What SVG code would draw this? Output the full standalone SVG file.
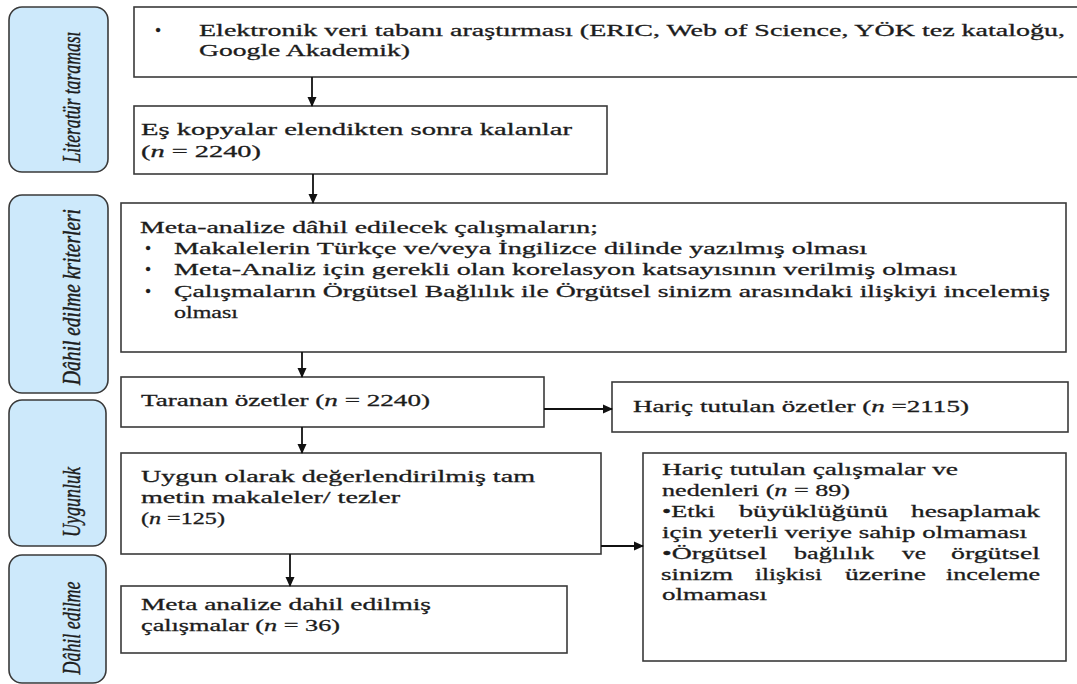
<svg xmlns="http://www.w3.org/2000/svg" width="1077" height="684" viewBox="0 0 1077 684">
<defs>
<marker id="ah" markerWidth="10" markerHeight="10" refX="9" refY="5" orient="auto" markerUnits="userSpaceOnUse">
<path d="M0,0.5 L10,5 L0,9.5 Z" fill="#111"/>
</marker>
<style>
.side{fill:#cde9fb;stroke:#3a3a3a;stroke-width:1.6}
.box{fill:#fff;stroke:#3a3a3a;stroke-width:1.6}
.t{font-family:"Liberation Serif","Times New Roman",serif;font-size:17.5px;fill:#1c1c1c;stroke:#1c1c1c;stroke-width:0.3}
.lab{font-family:"Liberation Serif","Times New Roman",serif;font-size:18px;font-style:italic;fill:#1c1c1c;stroke:#1c1c1c;stroke-width:0.3}
.i{font-style:italic}
.con{stroke:#111;stroke-width:1.8;fill:none}
</style>
</defs>
<rect width="1077" height="684" fill="#fff"/>

<g id="label-literatur">
<rect class="side" x="9" y="7" width="99" height="165" rx="13"/>
<text class="lab" transform="translate(80,97) rotate(-90) scale(1,1.4)" text-anchor="middle" textLength="131" lengthAdjust="spacingAndGlyphs">Literatür taraması</text>
</g>
<g id="label-dahil-kriter">
<rect class="side" x="9" y="195" width="99" height="198" rx="13"/>
<text class="lab" transform="translate(80,297) rotate(-90) scale(1,1.4)" text-anchor="middle" textLength="176" lengthAdjust="spacingAndGlyphs">Dâhil edilme kriterleri</text>
</g>
<g id="label-uygunluk">
<rect class="side" x="9" y="400" width="97" height="146" rx="13"/>
<text class="lab" transform="translate(80,502) rotate(-90) scale(1,1.4)" text-anchor="middle" textLength="70" lengthAdjust="spacingAndGlyphs">Uygunluk</text>
</g>
<g id="label-dahil">
<rect class="side" x="9" y="555" width="97" height="128" rx="13"/>
<text class="lab" transform="translate(80,628) rotate(-90) scale(1,1.4)" text-anchor="middle" textLength="93" lengthAdjust="spacingAndGlyphs">Dâhil edilme</text>
</g>

<g id="box-elektronik">
<rect class="box" x="134" y="7" width="960" height="70"/>
<text class="t" x="155" y="36">•</text>
<text class="t" x="199" y="36" textLength="866" lengthAdjust="spacingAndGlyphs">Elektronik veri tabanı araştırması (ERIC, Web of Science, YÖK tez kataloğu,</text>
<text class="t" x="199" y="56" textLength="211" lengthAdjust="spacingAndGlyphs">Google Akademik)</text>
</g>

<g id="box-kopyalar">
<rect class="box" x="134" y="106" width="473" height="68"/>
<text class="t" x="141" y="135" textLength="431" lengthAdjust="spacingAndGlyphs">Eş kopyalar elendikten sonra kalanlar</text>
<text class="t" x="141" y="157" textLength="120" lengthAdjust="spacingAndGlyphs">(<tspan class="i">n</tspan> = 2240)</text>
</g>

<g id="box-kriterler">
<rect class="box" x="121" y="203" width="945" height="149"/>
<text class="t" x="140" y="233" textLength="458" lengthAdjust="spacingAndGlyphs">Meta-analize dâhil edilecek çalışmaların;</text>
<text class="t" x="145" y="254">•</text>
<text class="t" x="174" y="254" textLength="693" lengthAdjust="spacingAndGlyphs">Makalelerin Türkçe ve/veya İngilizce dilinde yazılmış olması</text>
<text class="t" x="145" y="275">•</text>
<text class="t" x="174" y="275" textLength="783" lengthAdjust="spacingAndGlyphs">Meta-Analiz için gerekli olan korelasyon katsayısının verilmiş olması</text>
<text class="t" x="145" y="297">•</text>
<text class="t" x="174" y="297" textLength="876" lengthAdjust="spacingAndGlyphs">Çalışmaların Örgütsel Bağlılık ile Örgütsel sinizm arasındaki ilişkiyi incelemiş</text>
<text class="t" x="174" y="318" textLength="64" lengthAdjust="spacingAndGlyphs">olması</text>
</g>

<g id="box-taranan">
<rect class="box" x="121" y="377" width="423" height="50"/>
<text class="t" x="141" y="406" textLength="289" lengthAdjust="spacingAndGlyphs">Taranan özetler (<tspan class="i">n</tspan> = 2240)</text>
</g>

<g id="box-haric-ozet">
<rect class="box" x="612" y="382" width="456" height="50"/>
<text class="t" x="633" y="412" textLength="336" lengthAdjust="spacingAndGlyphs">Hariç tutulan özetler (<tspan class="i">n</tspan> =2115)</text>
</g>

<g id="box-uygun">
<rect class="box" x="121" y="453" width="480" height="101"/>
<text class="t" x="141" y="482" textLength="394" lengthAdjust="spacingAndGlyphs">Uygun olarak değerlendirilmiş tam</text>
<text class="t" x="141" y="503" textLength="259" lengthAdjust="spacingAndGlyphs">metin makaleler/ tezler</text>
<text class="t" x="141" y="524" textLength="84" lengthAdjust="spacingAndGlyphs">(<tspan class="i">n</tspan> =125)</text>
</g>

<g id="box-haric-calisma">
<rect class="box" x="643" y="453" width="423" height="208"/>
<text class="t" x="662" y="475" textLength="296" lengthAdjust="spacingAndGlyphs">Hariç tutulan çalışmalar ve</text>
<text class="t" x="662" y="496" textLength="188" lengthAdjust="spacingAndGlyphs">nedenleri (<tspan class="i">n</tspan> = 89)</text>
<text class="t" x="662" y="517" textLength="53" lengthAdjust="spacingAndGlyphs">•Etki</text>
<text class="t" x="739" y="517" textLength="149" lengthAdjust="spacingAndGlyphs">büyüklüğünü</text>
<text class="t" x="911" y="517" textLength="129" lengthAdjust="spacingAndGlyphs">hesaplamak</text>
<text class="t" x="662" y="538" textLength="365" lengthAdjust="spacingAndGlyphs">için yeterli veriye sahip olmaması</text>
<text class="t" x="662" y="559" textLength="105" lengthAdjust="spacingAndGlyphs">•Örgütsel</text>
<text class="t" x="794" y="559" textLength="80" lengthAdjust="spacingAndGlyphs">bağlılık</text>
<text class="t" x="902" y="559" textLength="24" lengthAdjust="spacingAndGlyphs">ve</text>
<text class="t" x="951" y="559" textLength="89" lengthAdjust="spacingAndGlyphs">örgütsel</text>
<text class="t" x="661" y="580" textLength="72" lengthAdjust="spacingAndGlyphs">sinizm</text>
<text class="t" x="755" y="580" textLength="67" lengthAdjust="spacingAndGlyphs">ilişkisi</text>
<text class="t" x="845" y="580" textLength="81" lengthAdjust="spacingAndGlyphs">üzerine</text>
<text class="t" x="946" y="580" textLength="94" lengthAdjust="spacingAndGlyphs">inceleme</text>
<text class="t" x="662" y="600" textLength="105" lengthAdjust="spacingAndGlyphs">olmaması</text>
</g>

<g id="box-meta-dahil">
<rect class="box" x="121" y="586" width="446" height="67"/>
<text class="t" x="141" y="610" textLength="290" lengthAdjust="spacingAndGlyphs">Meta analize dahil edilmiş</text>
<text class="t" x="141" y="631" textLength="199" lengthAdjust="spacingAndGlyphs">çalışmalar (<tspan class="i">n</tspan> = 36)</text>
</g>

<g id="connectors">
<line class="con" x1="312" y1="77" x2="312" y2="106" marker-end="url(#ah)"/>
<line class="con" x1="313" y1="174" x2="313" y2="203" marker-end="url(#ah)"/>
<line class="con" x1="302" y1="352" x2="302" y2="377" marker-end="url(#ah)"/>
<line class="con" x1="544" y1="409" x2="612" y2="409" marker-end="url(#ah)"/>
<line class="con" x1="302" y1="427" x2="302" y2="453" marker-end="url(#ah)"/>
<line class="con" x1="601" y1="546" x2="643" y2="546" marker-end="url(#ah)"/>
<line class="con" x1="290" y1="554" x2="290" y2="586" marker-end="url(#ah)"/>
</g>
</svg>
